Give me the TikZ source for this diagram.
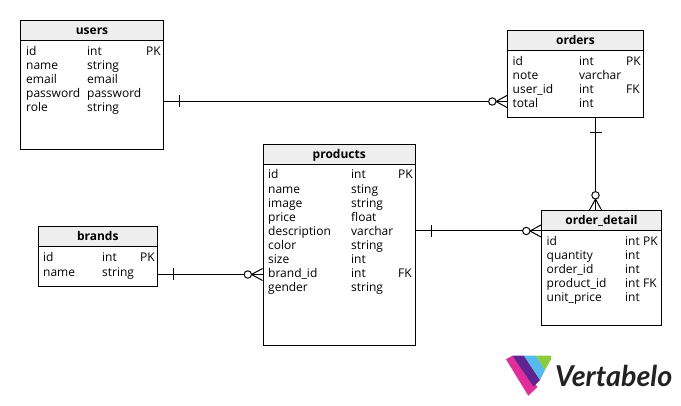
\documentclass[tikz,border=0pt]{standalone}
\usepackage{fontspec}
\setmainfont{Open Sans}
\newfontfamily\logofont{Lato}
\definecolor{headfill}{HTML}{EEEEEE}
\definecolor{logopink}{HTML}{E12D9B}
\definecolor{logopurple}{HTML}{5E2491}
\definecolor{logoblue}{HTML}{55BBEE}
\definecolor{logogreen}{HTML}{8CCB3C}
\definecolor{logotext}{HTML}{222222}
\tikzset{
  tablebox/.style={draw=black,line width=1pt,fill=white,inner sep=0pt,rectangle},
  headbox/.style={draw=black,line width=1pt,fill=headfill,inner sep=0pt,rectangle,text height=8.5pt,text depth=0pt,font=\fontsize{12}{14}\selectfont\bfseries},
  cell/.style={inner sep=0pt,anchor=base west,font=\fontsize{12}{14}\selectfont,text=black},
  rel/.style={draw=black,line width=1pt},
  crowfoot/.pic={
    \draw[rel] (0,-6) -- (11,0) -- (0,6);
    \draw[rel] (0,0) -- (11,0);
    \draw[rel,fill=white] (14.7,0) circle (3.7);
  },
  onebar/.pic={\draw[rel] (15,-6) -- (15,6);}
}
% \tablebox{name}{left}{top}{right}{headerbottom}{bottom}{title}
\newcommand{\dbtable}[7]{
  \node[tablebox,minimum width={(#4-#2)*1pt},minimum height={(#6-#3)*1pt}] (#1) at ({(#2+#4)/2},{(#3+#6)/2}) {};
  \node[headbox,minimum width={(#4-#2)*1pt},minimum height={(#5-#3)*1pt}] (#1-head) at ({(#2+#4)/2},{(#3+#5)/2}) {#7};
}
% \dbcol{prefix}{x}{first baseline}{entries}
\newcommand{\dbcol}[4]{
  \foreach \t [count=\i] in {#4}
    \node[cell] (#1-\i) at (#2,{#3+14.12*(\i-1)}) {\t};
}
\begin{document}
\begin{tikzpicture}[x=1pt,y=-1pt]
\useasboundingbox[fill=white] (0,0) rectangle (681,406);

% tables
\dbtable{users}{20.5}{20.5}{163.5}{40.5}{150}{users}
\dbcol{users-a}{26}{55.4}{id,name,email,password,role}
\dbcol{users-b}{87}{55.4}{int,string,email,password,string}
\dbcol{users-c}{146}{55.4}{PK}

\dbtable{orders}{507.5}{30.5}{643.5}{50.5}{117.5}{orders}
\dbcol{orders-a}{512.5}{65.4}{id,note,user\_id,total}
\dbcol{orders-b}{579}{65.4}{int,varchar,int,int}
\node[cell] (orders-pk) at (626,65.4) {PK};
\node[cell] (orders-fk) at (626,93.6) {FK};

\dbtable{products}{263}{144.5}{415.5}{164.5}{346}{products}
\dbcol{products-a}{268}{178.9}{id,name,image,price,description,color,size,brand\_id,gender}
\dbcol{products-b}{351}{178.9}{int,sting,string,float,varchar,string,int,int,string}
\node[cell] (products-pk) at (398,178.9) {PK};
\node[cell] (products-fk) at (398,277.9) {FK};

\dbtable{brands}{38}{226.5}{157.5}{246.5}{286.5}{brands}
\dbcol{brands-a}{43}{261.9}{id,name}
\dbcol{brands-b}{102}{261.9}{int,string}
\node[cell] (brands-pk) at (140,261.9) {PK};

\dbtable{detail}{541.5}{210.5}{661.5}{230.5}{326}{order\_detail}
\dbcol{detail-a}{546.5}{245.4}{id,quantity,order\_id,product\_id,unit\_price}
\dbcol{detail-b}{625}{245.4}{int,int,int,int,int}
\node[cell] (detail-pk) at (643,245.4) {PK};
\node[cell] (detail-fk) at (643,287.8) {FK};

% connectors
\coordinate (r1) at (300,101.5);
\coordinate (r2) at (595.5,170);
\coordinate (r3) at (480,231);
\coordinate (r4) at (210,274.5);
\draw[rel] (users.east |- r1) -- (orders.west |- r1);
\draw[rel] (orders.south -| r2) -- (detail.north -| r2);
\draw[rel] (products.east |- r3) -- (detail.west |- r3);
\draw[rel] (brands.east |- r4) -- (products.west |- r4);

\pic at (users.east |- r1) {onebar};
\pic[rotate=180] at (orders.west |- r1) {crowfoot};
\pic[rotate=-90] at (orders.south -| r2) {onebar};
\pic[rotate=90] at (detail.north -| r2) {crowfoot};
\pic at (products.east |- r3) {onebar};
\pic[rotate=180] at (detail.west |- r3) {crowfoot};
\pic at (brands.east |- r4) {onebar};
\pic[rotate=180] at (products.west |- r4) {crowfoot};

% logo
\fill[logopink] (506,359.3) -- (512.5,355.7) -- (537.5,387) -- (528.3,395.7) -- cycle;
\fill[logopurple] (512.5,355.7) -- (524,355.7) -- (540.2,380) -- (533.5,386.5) -- cycle;
\fill[logoblue] (524,355.7) -- (536,355.7) -- (545,370) -- (540,380) -- cycle;
\fill[logogreen] (536,355.7) -- (551,355.7) -- (551,359.3) -- (545,370) -- cycle;
\node[inner sep=0pt,anchor=base west,text=logotext,font=\fontsize{28.7}{30}\selectfont\logofont\bfseries\itshape] (logo) at (555,387) {Vertabelo};
\end{tikzpicture}
\end{document}
